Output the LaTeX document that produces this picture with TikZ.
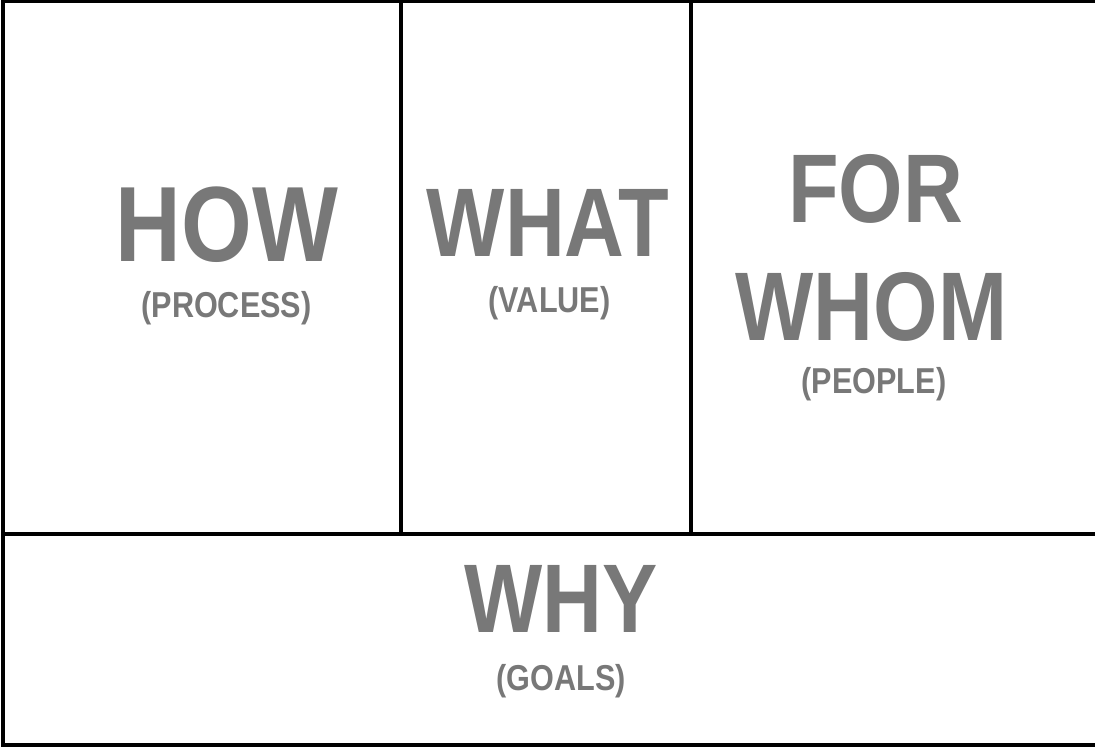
\documentclass[tikz,border=0pt]{standalone}
\usepackage{fontspec}
\newfontfamily\cellfont{Liberation Sans}[FakeStretch=0.85]
\definecolor{labelgray}{RGB}{120,120,120}
\begin{document}
\begin{tikzpicture}[x=1pt,y=-1pt,
  frame/.style={draw=black,line width=4pt},
  bigword/.style={anchor=base,inner sep=0pt,text=labelgray,
    font=\cellfont\bfseries\fontsize{97.5}{97.5}\selectfont},
  subword/.style={anchor=base,inner sep=0pt,text=labelgray,
    font=\cellfont\bfseries\fontsize{36}{36}\selectfont}]
  \useasboundingbox (0,0) rectangle (1095,747);
  \clip (0,0) rectangle (1095,747);
  % grid of cells, open on the right
  \draw[frame] (3,1) rectangle (1120,745.3);
  \draw[frame] (3,534) -- (1120,534);
  \draw[frame] (401,1) -- (401,534);
  \draw[frame] (690.5,1) -- (690.5,534);
  % cell labels
  \node[bigword,font=\cellfont\bfseries\fontsize{107}{107}\selectfont] (how) at (227,261) {HOW};
  \node[subword] (process) at (226.5,317) {(PROCESS)};
  \node[bigword] (what) at (548,256) {WHAT};
  \node[subword] (value) at (549.5,312) {(VALUE)};
  \node[bigword] (for) at (875.5,222) {FOR};
  \node[bigword] (whom) at (871.5,340) {WHOM};
  \node[subword] (people) at (874,393) {(PEOPLE)};
  \node[bigword] (why) at (561,632) {WHY};
  \node[subword] (goals) at (561,690) {(GOALS)};
\end{tikzpicture}
\end{document}
